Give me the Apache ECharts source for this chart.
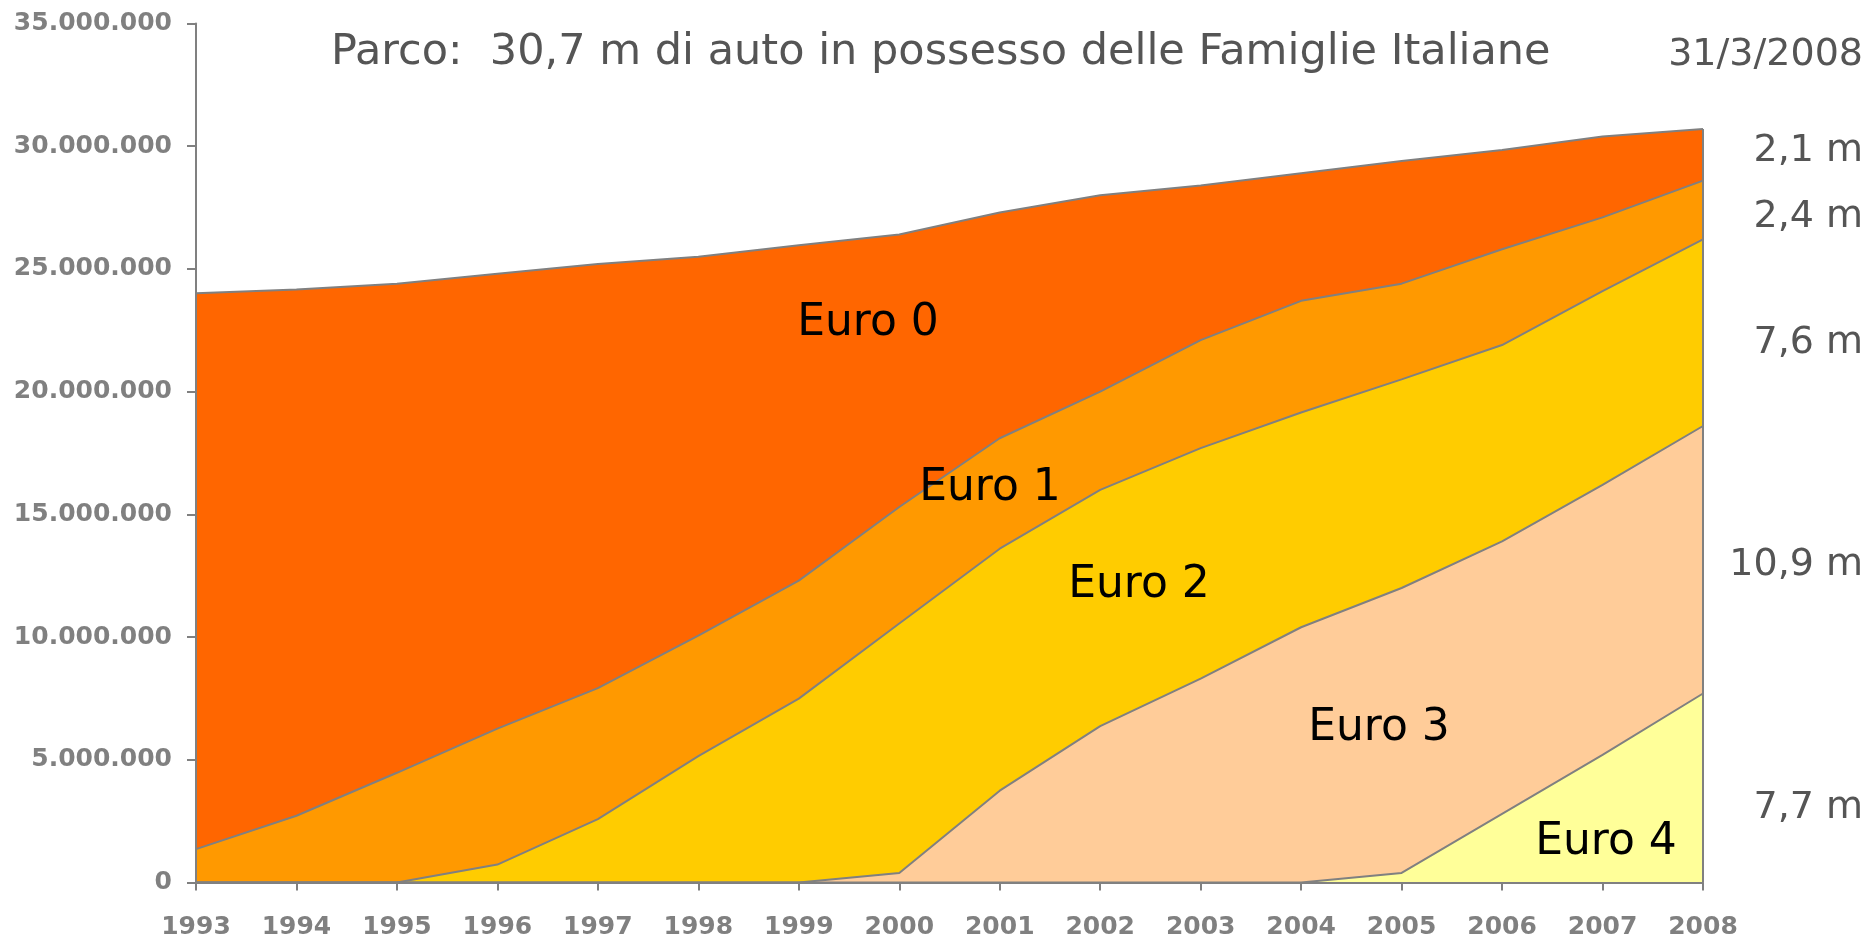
<!DOCTYPE html>
<html>
<head>
<meta charset="utf-8">
<script src="https://cdn.jsdelivr.net/npm/echarts@6/dist/echarts.min.js"></script>
<style>
  html, body { margin: 0; padding: 0; background: #fff; }
  #parco { width: 1870px; height: 935px; }
</style>
</head>
<body>
<div id="parco"></div>
<script>
  // anni
  var years = ['1993','1994','1995','1996','1997','1998','1999','2000','2001','2002','2003','2004','2005','2006','2007','2008'];
  // milioni di auto per classe
  var euro4 = [0, 0, 0, 0, 0, 0, 0, 0, 0, 0, 0, 0, 0.39, 2.8, 5.2, 7.7];
  var euro3 = [0, 0, 0, 0, 0, 0, 0, 0.39, 3.74, 6.37, 8.31, 10.4, 11.61, 11.1, 11.0, 10.9];
  var euro2 = [0, 0, 0, 0.73, 2.58, 5.15, 7.49, 10.16, 9.86, 9.63, 9.39, 8.75, 8.5, 8.0, 7.9, 7.6];
  var euro1 = [1.36, 2.72, 4.47, 5.54, 5.34, 4.91, 4.81, 4.75, 4.5, 4.0, 4.4, 4.55, 3.9, 3.9, 3.0, 2.4];
  var euro0 = [22.65, 21.44, 19.93, 18.53, 17.28, 15.44, 13.66, 11.1, 9.2, 8.0, 6.3, 5.2, 5.0, 4.05, 3.3, 2.1];

  var names = ['Euro 4', 'Euro 3', 'Euro 2', 'Euro 1', 'Euro 0'];
  var colors = ['#FFFF99', '#FFCC99', '#FFCC00', '#FF9900', '#FF6600'];
  var values = [euro4, euro3, euro2, euro1, euro0];

  // totale per la linea verticale finale
  var total = years.map(function (y, i) {
    return values.reduce(function (s, arr) { return s + arr[i]; }, 0);
  });

  function fmt(v) {
    return String(Math.round(v * 1e6)).replace(/\B(?=(\d{3})+(?!\d))/g, '.');
  }

  var series = values.map(function (arr, k) {
    return {
      name: names[k],
      type: 'line',
      stack: 'parco',
      symbol: 'none',
      data: arr,
      lineStyle: { color: '#808080', width: 2 },
      areaStyle: { color: colors[k], opacity: 1 },
      z: 2
    };
  });
  // bordo destro del grafico ad area
  series.push({
    name: 'bordo',
    type: 'line',
    symbol: 'none',
    data: total,
    lineStyle: { opacity: 0 },
    silent: true,
    z: 3,
    markLine: {
      symbol: 'none',
      silent: true,
      label: { show: false },
      lineStyle: { color: '#808080', width: 2, type: 'solid' },
      data: [[{ coord: [years[years.length - 1], 0] }, { coord: [years[years.length - 1], total[total.length - 1]] }]]
    }
  });

  var textGrey = '#555555';
  var titleFont = '43px "DejaVu Sans"';
  var sideFont = '38px "DejaVu Sans"';
  var euroFont = '44px "DejaVu Sans"';

  function txt(x, y, text, font, fill, align) {
    return {
      type: 'text', x: x, y: y, z: 100,
      style: { text: text, font: font, fill: fill, align: align || 'center', verticalAlign: 'middle' }
    };
  }

  var myChart = echarts.init(document.getElementById('parco'));
  myChart.setOption({
    animation: false,
    grid: { left: 196, right: 167, top: 23.5, bottom: 52.5, outerBoundsMode: 'none', containLabel: false },
    xAxis: {
      type: 'category',
      boundaryGap: false,
      data: years,
      z: 10,
      axisLine: { lineStyle: { color: '#808080', width: 2 } },
      axisTick: { show: true, length: 8, lineStyle: { color: '#808080', width: 2 } },
      axisLabel: { color: '#808080', fontFamily: 'DejaVu Sans', fontWeight: 'bold', fontSize: 25, margin: 32 }
    },
    yAxis: {
      type: 'value',
      min: 0,
      max: 35,
      interval: 5,
      z: 10,
      splitLine: { show: false },
      axisLine: { show: true, lineStyle: { color: '#808080', width: 2 } },
      axisTick: { show: true, length: 9, lineStyle: { color: '#808080', width: 2 } },
      axisLabel: { color: '#808080', fontFamily: 'DejaVu Sans', fontWeight: 'bold', fontSize: 25, margin: 24, formatter: fmt }
    },
    series: series,
    graphic: [
      txt(331, 53, 'Parco:  30,7 m di auto in possesso delle Famiglie Italiane', titleFont, textGrey, 'left'),
      txt(1863, 55, '31/3/2008', sideFont, textGrey, 'right'),
      txt(1863, 151, '2,1 m', sideFont, textGrey, 'right'),
      txt(1863, 217, '2,4 m', sideFont, textGrey, 'right'),
      txt(1863, 343, '7,6 m', sideFont, textGrey, 'right'),
      txt(1863, 565, '10,9 m', sideFont, textGrey, 'right'),
      txt(1863, 808, '7,7 m', sideFont, textGrey, 'right'),
      txt(868, 324, 'Euro 0', euroFont, '#000'),
      txt(990, 489, 'Euro 1', euroFont, '#000'),
      txt(1139, 586, 'Euro 2', euroFont, '#000'),
      txt(1379, 729, 'Euro 3', euroFont, '#000'),
      txt(1606, 843, 'Euro 4', euroFont, '#000')
    ]
  });

  window.addEventListener('resize', function () {
    myChart.resize();
  });
</script>
</body>
</html>
